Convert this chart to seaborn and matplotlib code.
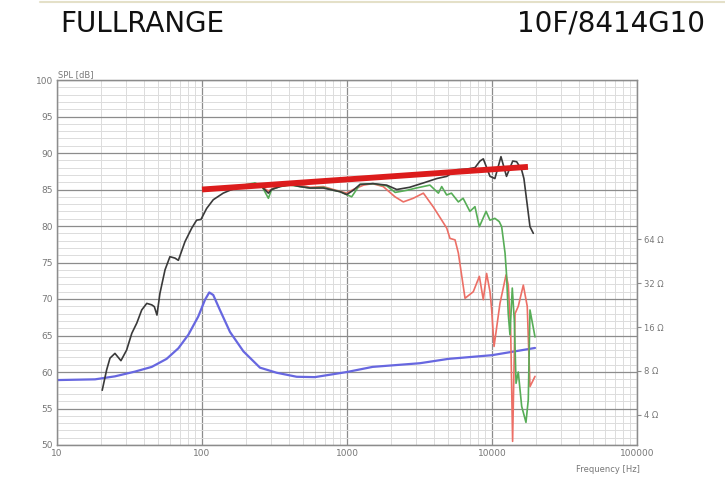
import numpy as np
import pandas as pd
import matplotlib
matplotlib.use("Agg")
import matplotlib.pyplot as plt
import seaborn as sns
from matplotlib.ticker import FixedLocator, NullLocator, FixedFormatter, MultipleLocator, NullFormatter
from matplotlib.lines import Line2D

# ---------------- data ----------------
black_f = [20.5, 22.0, 23.2, 25.1, 27.6, 30.2, 32.8, 35.5, 38.4, 41.6, 45.0, 46.9, 48.9, 51.3, 55.6,
           60.1, 65.1, 68.7, 76.3, 84.9, 91.8, 98.4, 107.6, 119.6, 140, 156, 193, 232, 258, 287,
           302, 345, 404, 474, 556, 687, 805, 896, 995, 1105, 1230, 1515, 1878, 2203, 2700, 3365,
           4160, 4876, 5710, 6700, 7640, 8260, 8710, 9685, 10470, 11530, 12590, 13900, 14800,
           16000, 16600, 17500, 18280, 19270]
black_spl = [57.5, 60.3, 61.9, 62.55, 61.55, 63.0, 65.3, 66.7, 68.5, 69.4, 69.2, 68.95, 67.8, 70.8, 74.0,
             75.8, 75.6, 75.3, 77.85, 79.7, 80.8, 80.9, 82.4, 83.6, 84.5, 84.9, 85.5, 85.8, 85.4, 84.5,
             85.0, 85.4, 85.7, 85.4, 85.2, 85.2, 84.9, 84.7, 84.3, 84.9, 85.7, 85.8, 85.6, 85.0, 85.3, 85.9,
             86.5, 86.8, 87.7, 87.8, 88.0, 88.9, 89.2, 86.8, 86.5, 89.5, 86.8, 88.9, 88.8,
             87.7, 86.5, 82.9, 79.9, 79.0]

green_f = [180, 193, 232, 258, 287, 302, 345, 404, 474, 556, 687, 805, 896, 1077, 1230, 1515, 1878,
           2150, 2600, 3000, 3733, 4270, 4500, 4870, 5250, 5860, 6320, 7040, 7630, 8180, 9100, 9680,
           10470, 11220, 11660, 12300, 12600, 12940, 13300, 13800, 14250, 14650, 15180, 16020,
           17150, 17790, 18280, 19800]
green_spl = [85.2, 85.6, 85.9, 85.5, 83.8, 85.0, 85.4, 85.6, 85.4, 85.2, 85.3, 84.9, 84.7, 84.0, 85.7,
             85.8, 85.5, 84.6, 84.9, 85.2, 85.6, 84.5, 85.4, 84.25, 84.5, 83.3, 83.8, 82.0, 82.65, 79.9,
             82.0, 80.8, 81.05, 80.6, 79.9, 76.3, 73.3, 68.0, 65.1, 71.5, 67.1, 58.45, 60.0, 55.3,
             53.1, 56.2, 68.5, 64.8]

red_f = [180, 193, 232, 258, 287, 320, 404, 474, 556, 687, 805, 995, 1105, 1300, 1500, 1778, 2143,
         2445, 2865, 3363, 3940, 4500, 4876, 5130, 5560, 5860, 6517, 7430, 8180, 8710, 9180, 9690,
         9950, 10330, 11350, 12500, 12950, 13450, 13870, 14420, 15180, 16440, 17500, 18280, 19800]
red_spl = [85.2, 85.5, 85.7, 85.4, 84.8, 85.3, 86.0, 85.6, 85.3, 85.4, 85.0, 84.5, 85.0, 85.6, 85.8,
           85.4, 84.0, 83.3, 83.8, 84.5, 82.6, 80.8, 79.7, 78.3, 78.1, 76.3, 70.1, 71.0, 73.1, 69.9,
           73.5, 71.0, 68.5, 63.5, 69.4, 73.3, 71.9, 65.75, 50.5, 68.0, 69.0, 71.9, 69.0, 58.0, 59.4]

imp_f = [10, 18.3, 25.1, 34.5, 45, 57, 68.7, 80.5, 94.2, 104.9, 112.2, 119.6, 133, 156, 193, 251,
         327, 450, 600, 1000, 1500, 3185, 5000, 10000, 19800]
imp_ohm = [6.93, 7.01, 7.35, 7.92, 8.53, 9.68, 11.44, 14.16, 18.88, 24.6, 27.6, 26.5, 20.9, 14.8, 10.9,
           8.43, 7.78, 7.30, 7.26, 7.87, 8.53, 9.04, 9.68, 10.26, 11.5]

trend_f = [100, 17700]
trend_spl = [85.0, 88.1]

y_ticks = [50, 55, 60, 65, 70, 75, 80, 85, 90, 95, 100]
x_ticks = [10, 100, 1000, 10000, 100000]
x_labels = ["10", "100", "1000", "10000", "100000"]
z_ticks = [4, 8, 16, 32, 64]
z_labels = ["4 Ω", "8 Ω", "16 Ω", "32 Ω", "64 Ω"]

# ---------------- figure ----------------
sns.set_style("white")
plt.rcParams['font.family'] = ['DejaVu Sans']

fig = plt.figure(figsize=(7.25, 4.8), dpi=100)
ax = fig.add_axes([57/725, 1-445/480, (637-57)/725, (445-80)/480])
ax.set_xscale("log")
ax.set_xlim(10, 100000)
ax.set_ylim(50, 100)

ax2 = ax.twinx()   # impedance (middle layer)
ax3 = ax.twinx()   # SPL curves (top layer)

df_imp = pd.DataFrame({"f": imp_f, "z": imp_ohm})
df_blk = pd.DataFrame({"f": black_f, "spl": black_spl})
df_grn = pd.DataFrame({"f": green_f, "spl": green_spl})
df_red = pd.DataFrame({"f": red_f, "spl": red_spl})
df_tr = pd.DataFrame({"f": trend_f, "spl": trend_spl})

# impedance on twin log axis (6 dB per octave)
ax2.set_yscale("log")
ax2.set_ylim(10 ** ((50 - 42.08) / 20), 10 ** ((100 - 42.08) / 20))
sns.lineplot(data=df_imp, x="f", y="z", ax=ax2, color="#6767e0", lw=1.6, estimator=None, sort=False)

# SPL curves
ax3.set_ylim(50, 100)
sns.lineplot(data=df_red, x="f", y="spl", ax=ax3, color="#ec6f66", lw=1.2, estimator=None, sort=False)
sns.lineplot(data=df_grn, x="f", y="spl", ax=ax3, color="#57ad57", lw=1.2, estimator=None, sort=False)
sns.lineplot(data=df_blk, x="f", y="spl", ax=ax3, color="#3a3a3a", lw=1.2, estimator=None, sort=False)
sns.lineplot(data=df_tr, x="f", y="spl", ax=ax3, color="#dc1c1c", lw=4.2, estimator=None, sort=False,
             solid_capstyle="butt")
ax3.set_ylim(50, 100)
ax3.yaxis.set_major_locator(NullLocator())
ax3.yaxis.set_minor_locator(NullLocator())
for s in ax3.spines.values():
    s.set_visible(False)

for a in (ax2, ax3):
    a.set_xlabel("")
    a.set_ylabel("")
    a.patch.set_visible(False)
ax.set_xlabel("")
ax.set_ylabel("")

# layering
ax.set_zorder(0)
ax2.set_zorder(1)
ax3.set_zorder(2)

# x ticks / grid (set after all twin plotting)
ax.set_xlim(10, 100000)
ax.xaxis.set_major_locator(FixedLocator(x_ticks))
ax.xaxis.set_major_formatter(FixedFormatter(x_labels))
minors = [m * d for d in [10, 100, 1000, 10000] for m in range(2, 10)]
ax.xaxis.set_minor_locator(FixedLocator(minors))
ax.xaxis.set_minor_formatter(NullFormatter())
ax.yaxis.set_major_locator(FixedLocator(y_ticks))
ax.yaxis.set_minor_locator(MultipleLocator(1))
ax.grid(which="major", color="#8c8c8c", lw=0.9)
ax.grid(which="minor", color="#dcdcdc", lw=0.7)
ax.set_axisbelow(True)
ax.tick_params(which="both", length=0, labelsize=6.5, colors="#777777", pad=3)
ax.tick_params(axis="x", pad=3)
for s in ax.spines.values():
    s.set_color("#8c8c8c")
    s.set_linewidth(0.9)

ax2.yaxis.set_major_locator(FixedLocator(z_ticks))
ax2.yaxis.set_major_formatter(FixedFormatter(z_labels))
ax2.yaxis.set_minor_locator(NullLocator())
ax2.tick_params(axis="y", length=3, width=0.8, colors="#8c8c8c", labelcolor="#777777", labelsize=6, pad=2)
for s in ax2.spines.values():
    s.set_color("#8c8c8c")
    s.set_linewidth(0.9)

# texts
fig.text(60/725, 1-24/480, "FULLRANGE", fontsize=20, va="center", ha="left", color="#111111")
fig.text(705/725, 1-24/480, "10F/8414G10", fontsize=20, va="center", ha="right", color="#111111")
fig.text(58/725, 1-75/480, "SPL [dB]", fontsize=6, va="center", ha="left", color="#777777")
fig.text(640/725, 1-469/480, "Frequency [Hz]", fontsize=6, va="center", ha="right", color="#777777")

fig.add_artist(Line2D([40/725, 1], [1-2/480, 1-2/480], color="#e4e0c8", lw=1.5))

fig.savefig("out.png", dpi=100)
